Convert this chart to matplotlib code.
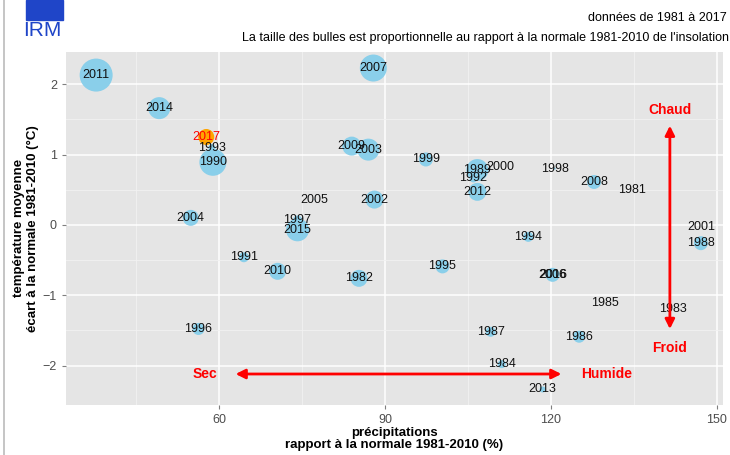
import matplotlib.pyplot as plt
import matplotlib.patches as mpatches
import numpy as np

# years, precipitation ratio (%), temperature anomaly (°C), sunshine ratio (%)
years = [1981, 1982, 1983, 1984, 1985, 1986, 1987, 1988, 1989, 1990,
         1991, 1992, 1993, 1994, 1995, 1996, 1997, 1998, 1999, 2000,
         2001, 2002, 2003, 2004, 2005, 2006, 2007, 2008, 2009, 2010,
         2011, 2012, 2013, 2014, 2015, 2016, 2017]
precip = [134.6, 85.3, 142.1, 111.1, 129.8, 125.1, 109.1, 147.1, 106.7, 58.9,
          64.5, 106.0, 58.7, 115.9, 100.4, 56.3, 74.2, 120.7, 97.4, 110.8,
          147.1, 88.1, 87.0, 54.9, 77.2, 120.3, 87.9, 127.8, 84.0, 70.6,
          37.8, 106.7, 118.5, 49.2, 74.2, 120.4, 57.7]
temp = [0.50, -0.76, -1.19, -1.98, -1.11, -1.59, -1.52, -0.26, 0.78, 0.89,
        -0.46, 0.66, 1.10, -0.17, -0.59, -1.48, 0.07, 0.80, 0.93, 0.83,
        -0.03, 0.36, 1.07, 0.10, 0.36, -0.71, 2.23, 0.61, 1.12, -0.66,
        2.13, 0.47, -2.34, 1.66, -0.07, -0.71, 1.25]
insol = [88, 105, 86, 96, 86, 100, 98, 102, 110, 115,
         98, 96, 95, 98, 102, 100, 97, 90, 102, 88,
         88, 106, 110, 104, 89, 102, 115, 102, 107, 105,
         121, 106, 94, 110, 111, 100, 104]

xticks = [60, 90, 120, 150]
yticks = [-2, -1, 0, 1, 2]

plt.rcParams['font.family'] = ['Liberation Sans', 'DejaVu Sans']

fig = plt.figure(figsize=(7.3, 4.55), dpi=100)
ax = fig.add_axes([0.0904, 0.110, 0.900, 0.776])
ax.set_facecolor('#E5E5E5')

ax.set_xlim(32.35, 151.1)
ax.set_ylim(-2.56, 2.46)

# grid
ax.set_xticks(xticks)
ax.set_yticks(yticks)
ax.set_xticks([45, 75, 105, 135], minor=True)
ax.set_yticks([-1.5, -0.5, 0.5, 1.5], minor=True)
ax.grid(which='major', color='white', lw=1.1)
ax.grid(which='minor', color='#F2F2F2', lw=0.6)
ax.set_axisbelow(True)
for s in ax.spines.values():
    s.set_visible(False)
ax.tick_params(which='major', length=3, color='#7F7F7F', labelcolor='#4D4D4D', labelsize=9)
ax.tick_params(which='minor', length=0)

# bubbles
diam = np.clip(np.array(insol) - 88, 0, None) * 1.0
sizes = (0.72 * diam) ** 2
colors = ['#FFA500' if y == 2017 else '#8ACFEA' for y in years]
ax.scatter(precip, temp, s=sizes, c=colors, edgecolors='none', zorder=2)

for y, px, t in zip(years, precip, temp):
    ax.text(px, t, str(y), ha='center', va='center', fontsize=9,
            color='red' if y == 2017 else '#111111', zorder=3)

# arrows
red = '#FF0000'
ax.annotate('', xy=(141.5, 1.45), xytext=(141.5, -1.52),
            arrowprops=dict(arrowstyle='<|-|>', color=red, lw=2, mutation_scale=14))
ax.annotate('', xy=(62.5, -2.12), xytext=(122.4, -2.12),
            arrowprops=dict(arrowstyle='<|-|>', color=red, lw=2, mutation_scale=14))
ax.text(141.5, 1.63, 'Chaud', color=red, fontweight='bold', fontsize=10, ha='center', va='center')
ax.text(141.5, -1.75, 'Froid', color=red, fontweight='bold', fontsize=10, ha='center', va='center')
ax.text(57.5, -2.12, 'Sec', color=red, fontweight='bold', fontsize=10, ha='center', va='center')
ax.text(130.0, -2.12, 'Humide', color=red, fontweight='bold', fontsize=10, ha='center', va='center')

ax.set_xlabel('précipitations\nrapport à la normale 1981-2010 (%)', fontsize=9.5,
              fontweight='bold', labelpad=1, linespacing=1.0)
ax.set_ylabel('température moyenne\nécart à la normale 1981-2010 (°C)', fontsize=9.5,
              fontweight='bold', labelpad=3, linespacing=1.15)

# header texts
fig.text(727 / 730, 1 - 18 / 455, 'données de 1981 à 2017', ha='right', va='center', fontsize=9)
fig.text(729 / 730, 1 - 38 / 455,
         "La taille des bulles est proportionnelle au rapport à la normale 1981-2010 de l'insolation",
         ha='right', va='center', fontsize=9)

# IRM logo
blue = '#1F45C8'
fig.patches.append(mpatches.Rectangle((26 / 730, 1 - 20 / 455), 37 / 730, 20 / 455,
                                      transform=fig.transFigure, color=blue))
fig.text(42 / 730, 1 - 30 / 455, 'IRM', color=blue, fontsize=15, ha='center', va='center')
fig.add_artist(plt.Line2D([3.5 / 730, 3.5 / 730], [0, 1], color='#BBBBBB', lw=1.2))

plt.savefig('out.png', dpi=100)
